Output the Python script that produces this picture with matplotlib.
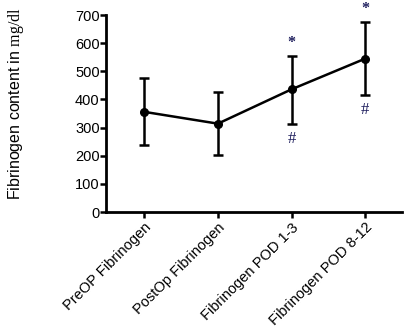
import matplotlib
matplotlib.use("Agg")
import matplotlib.pyplot as plt
import numpy as np

categories = ["PreOP Fibrinogen", "PostOp Fibrinogen", "Fibrinogen POD 1-3", "Fibrinogen POD 8-12"]
means = [356, 314, 436, 545]
upper = [475, 425, 554, 674]
lower = [237, 204, 314, 416]
stars = ["", "", "*", "*"]
hashes = ["", "", "#", "#"]

plt.rcParams['font.family'] = ['Liberation Sans', 'DejaVu Sans']
plt.rcParams['mathtext.fontset'] = 'custom'
plt.rcParams['mathtext.rm'] = 'Liberation Serif'
fig = plt.figure(figsize=(4.06, 3.31), dpi=100)
ax = fig.add_axes([0.261, 0.3595, 0.729, 0.595])
x = np.arange(len(categories))
m = np.array(means)
yerr = [m - np.array(lower), np.array(upper) - m]
ax.errorbar(x, m, yerr=yerr, color='black', lw=1.8, marker='o', ms=5.5,
            capsize=3.6, capthick=1.8, elinewidth=1.8, clip_on=False)
for xi, s, h, u, l in zip(x, stars, hashes, upper, lower):
    if s:
        ax.text(xi, u + 48, s, ha='center', va='center', fontsize=11.5,
                color='#1c1c5c', family='Liberation Serif', fontweight='bold', clip_on=False)
    if h:
        ax.text(xi, l - 55, h, ha='center', va='center', fontsize=12,
                color='#1c1c5c', family='Liberation Serif', clip_on=False)
ax.set_xlim(-0.52, 3.5)
ax.set_ylim(0, 700)
ax.set_yticks(range(0, 701, 100))
ax.set_xticks(x)
ax.set_xticklabels(categories, rotation=45, ha='right', rotation_mode='anchor', fontsize=10.5)
ax.tick_params(axis='y', labelsize=10.5, width=1.8, length=4, pad=0.5)
ax.tick_params(axis='x', width=1.8, length=4, pad=2)
for sp in ['top', 'right']:
    ax.spines[sp].set_visible(False)
for sp in ['left', 'bottom']:
    ax.spines[sp].set_linewidth(2)
ax.set_ylabel("Fibrinogen content in $\\mathrm{mg/dl}$", fontsize=11.5)
ax.yaxis.set_label_coords(-0.27, 0.55)
fig.savefig("out.png", dpi=100)
